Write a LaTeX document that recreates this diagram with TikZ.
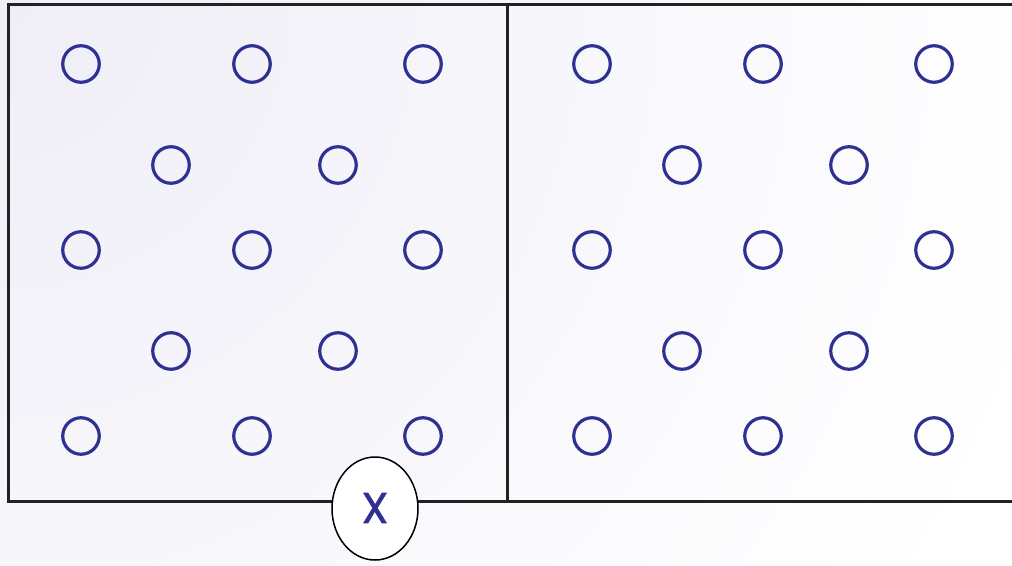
\documentclass[tikz,border=0pt]{standalone}
\usepackage{fontspec}
\setmainfont{Poppins}
\newfontfamily\xfont{Poppins}[FakeBold=1.5]
\begin{document}
\begin{tikzpicture}[x=1pt,y=-1pt,
  dot/.style={circle,draw=dotblue,line width=3.2pt,minimum size=36.5pt,inner sep=0pt},
  frame/.style={draw=framegray,line width=3pt},
]
\definecolor{dotblue}{HTML}{2E3192}
\definecolor{framegray}{HTML}{222222}
\definecolor{lav}{HTML}{EFEEF7}
\useasboundingbox (0,0) rectangle (1012,565);
\clip (0,0) rectangle (1012,565);
\shade[inner color=lav,outer color=white] (0,0) circle (1100);
% frames
\draw[frame] (8,4) rectangle (507,501);
\draw[frame] (507,4) -- (1020,4);
\draw[frame] (507,501) -- (1020,501);
% left dots
\foreach \x/\y [count=\i] in {81/64,252/64,423/64,171/165,338/165,81/250,252/250,423/250,171/351,338/351,81/436,252/436,423/436}
  \node[dot] (l\i) at (\x,\y) {};
% right dots
\foreach \x/\y [count=\i] in {592/64,763/64,934/64,682/165,849/165,592/250,763/250,934/250,682/351,849/351,592/436,763/436,934/436}
  \node[dot] (r\i) at (\x,\y) {};
% ellipse
\draw[fill=white,draw=black,line width=1.5pt] (375,508.5) ellipse (43 and 51.5);
\node[text=dotblue,font=\xfont\fontsize{43}{43}\selectfont,inner sep=0pt] (xlab) at (375,508) {X};
\end{tikzpicture}
\end{document}
